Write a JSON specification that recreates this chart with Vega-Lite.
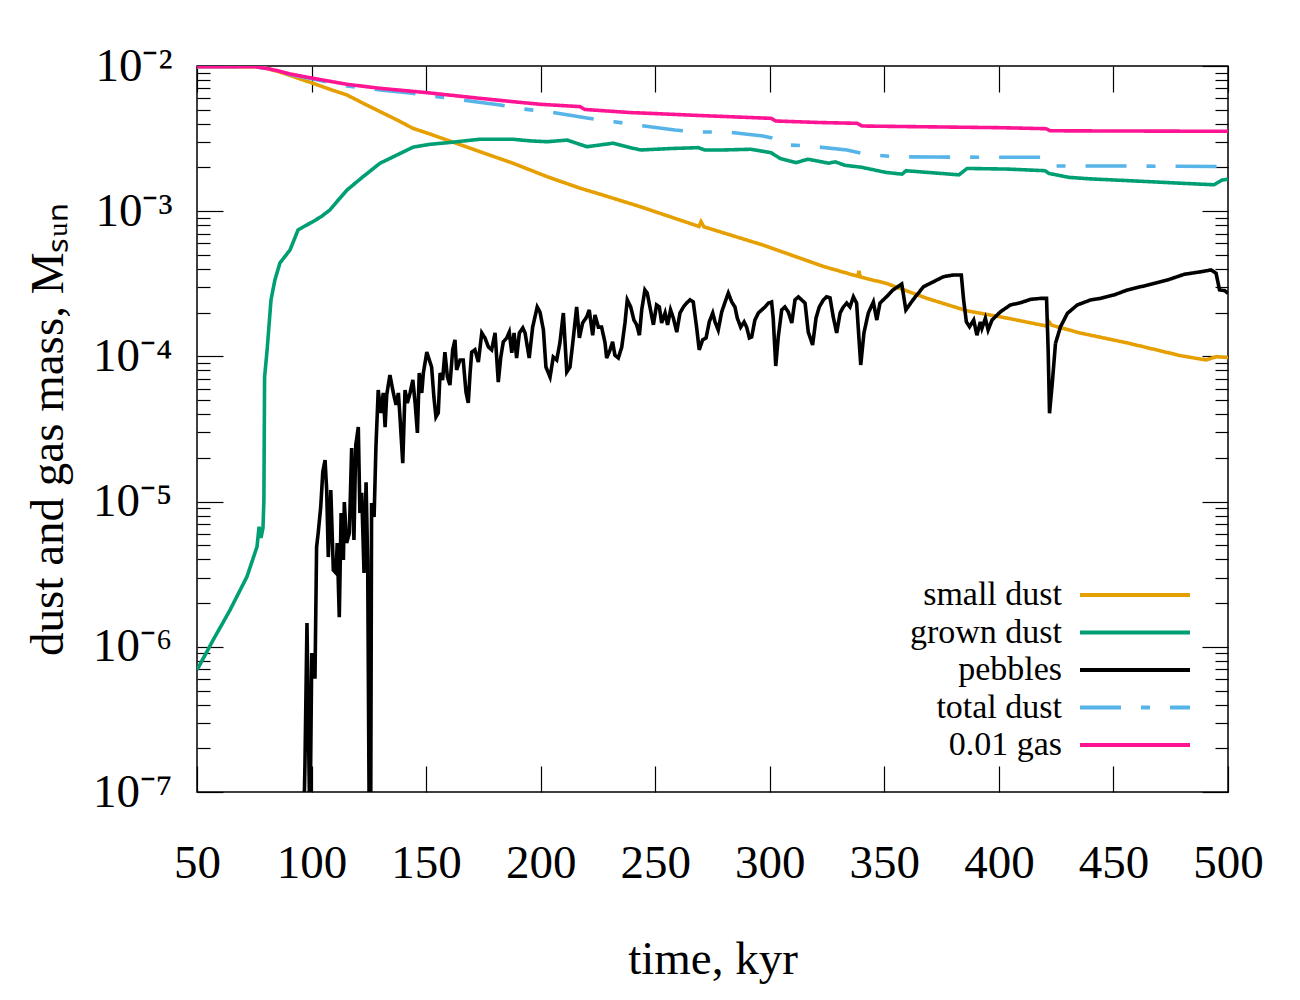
{
  "$schema": "https://vega.github.io/schema/vega-lite/v6.json",
  "width": 1031,
  "height": 726,
  "autosize": {"type": "none"},
  "padding": {"left": 197, "top": 66, "right": 72, "bottom": 208},
  "background": "white",
  "config": {
    "view": {"stroke": "black", "strokeWidth": 1.5},
    "axis": {"domain": false, "grid": false, "tickColor": "black", "tickWidth": 1.2, "labelColor": "black", "titleColor": "black", "labelFont": "Liberation Serif", "titleFont": "Liberation Serif", "titleFontWeight": "normal", "zindex": 1}
  },
  "datasets": {
    "curves": [
      {"series": "small dust", "t": 50, "m": 0.0099},
      {"series": "small dust", "t": 75.3, "m": 0.0099},
      {"series": "small dust", "t": 77.5, "m": 0.00989},
      {"series": "small dust", "t": 86.2, "m": 0.00909},
      {"series": "small dust", "t": 100.6, "m": 0.0076},
      {"series": "small dust", "t": 108.0, "m": 0.00691},
      {"series": "small dust", "t": 115.5, "m": 0.00631},
      {"series": "small dust", "t": 122.5, "m": 0.00554},
      {"series": "small dust", "t": 129.9, "m": 0.00485},
      {"series": "small dust", "t": 137.3, "m": 0.00425},
      {"series": "small dust", "t": 144.3, "m": 0.00372},
      {"series": "small dust", "t": 151.7, "m": 0.0034},
      {"series": "small dust", "t": 159.1, "m": 0.00309},
      {"series": "small dust", "t": 173.5, "m": 0.00257},
      {"series": "small dust", "t": 187.9, "m": 0.00214},
      {"series": "small dust", "t": 202.8, "m": 0.00173},
      {"series": "small dust", "t": 217.2, "m": 0.00144},
      {"series": "small dust", "t": 225.9, "m": 0.00131},
      {"series": "small dust", "t": 243.8, "m": 0.00107},
      {"series": "small dust", "t": 269.1, "m": 0.000785},
      {"series": "small dust", "t": 270.0, "m": 0.000847},
      {"series": "small dust", "t": 271.3, "m": 0.00078},
      {"series": "small dust", "t": 297.0, "m": 0.000585},
      {"series": "small dust", "t": 323.7, "m": 0.000415},
      {"series": "small dust", "t": 338.5, "m": 0.000356},
      {"series": "small dust", "t": 338.9, "m": 0.000388},
      {"series": "small dust", "t": 339.5, "m": 0.000352},
      {"series": "small dust", "t": 350.7, "m": 0.000319},
      {"series": "small dust", "t": 368.6, "m": 0.000251},
      {"series": "small dust", "t": 386.1, "m": 0.000206},
      {"series": "small dust", "t": 404.0, "m": 0.000183},
      {"series": "small dust", "t": 420.6, "m": 0.000162},
      {"series": "small dust", "t": 421.9, "m": 0.000173},
      {"series": "small dust", "t": 423.0, "m": 0.000164},
      {"series": "small dust", "t": 435.4, "m": 0.000145},
      {"series": "small dust", "t": 455.9, "m": 0.000124},
      {"series": "small dust", "t": 479.5, "m": 0.000101},
      {"series": "small dust", "t": 490.4, "m": 0.0000945},
      {"series": "small dust", "t": 494.8, "m": 0.0000995},
      {"series": "small dust", "t": 500, "m": 0.0000983},

      {"series": "grown dust", "t": 50, "m": 6.92e-7},
      {"series": "grown dust", "t": 57.0, "m": 1.11e-6},
      {"series": "grown dust", "t": 64.4, "m": 1.79e-6},
      {"series": "grown dust", "t": 71.8, "m": 3.04e-6},
      {"series": "grown dust", "t": 76.2, "m": 4.89e-6},
      {"series": "grown dust", "t": 77.1, "m": 6.72e-6},
      {"series": "grown dust", "t": 77.9, "m": 5.62e-6},
      {"series": "grown dust", "t": 78.8, "m": 6.58e-6},
      {"series": "grown dust", "t": 79.2, "m": 1.03e-5},
      {"series": "grown dust", "t": 79.5, "m": 7.2e-5},
      {"series": "grown dust", "t": 80.6, "m": 1.107e-4},
      {"series": "grown dust", "t": 82.3, "m": 2.45e-4},
      {"series": "grown dust", "t": 84.0, "m": 3.36e-4},
      {"series": "grown dust", "t": 86.2, "m": 4.40e-4},
      {"series": "grown dust", "t": 90.6, "m": 5.41e-4},
      {"series": "grown dust", "t": 94.1, "m": 7.42e-4},
      {"series": "grown dust", "t": 97.1, "m": 7.91e-4},
      {"series": "grown dust", "t": 100.6, "m": 8.47e-4},
      {"series": "grown dust", "t": 104.3, "m": 9.2e-4},
      {"series": "grown dust", "t": 108.0, "m": 1.02e-3},
      {"series": "grown dust", "t": 111.8, "m": 1.2e-3},
      {"series": "grown dust", "t": 115.5, "m": 1.40e-3},
      {"series": "grown dust", "t": 122.5, "m": 1.73e-3},
      {"series": "grown dust", "t": 129.9, "m": 2.14e-3},
      {"series": "grown dust", "t": 137.3, "m": 2.44e-3},
      {"series": "grown dust", "t": 144.3, "m": 2.76e-3},
      {"series": "grown dust", "t": 151.7, "m": 2.89e-3},
      {"series": "grown dust", "t": 159.1, "m": 2.96e-3},
      {"series": "grown dust", "t": 173.5, "m": 3.13e-3},
      {"series": "grown dust", "t": 187.9, "m": 3.13e-3},
      {"series": "grown dust", "t": 195.3, "m": 3.05e-3},
      {"series": "grown dust", "t": 202.8, "m": 3.01e-3},
      {"series": "grown dust", "t": 211.5, "m": 3.09e-3},
      {"series": "grown dust", "t": 220.2, "m": 2.78e-3},
      {"series": "grown dust", "t": 231.6, "m": 2.94e-3},
      {"series": "grown dust", "t": 239.0, "m": 2.74e-3},
      {"series": "grown dust", "t": 243.8, "m": 2.64e-3},
      {"series": "grown dust", "t": 256.4, "m": 2.70e-3},
      {"series": "grown dust", "t": 268.7, "m": 2.74e-3},
      {"series": "grown dust", "t": 271.7, "m": 2.64e-3},
      {"series": "grown dust", "t": 279.2, "m": 2.64e-3},
      {"series": "grown dust", "t": 291.8, "m": 2.67e-3},
      {"series": "grown dust", "t": 300.5, "m": 2.53e-3},
      {"series": "grown dust", "t": 304.5, "m": 2.31e-3},
      {"series": "grown dust", "t": 311.4, "m": 2.16e-3},
      {"series": "grown dust", "t": 316.7, "m": 2.28e-3},
      {"series": "grown dust", "t": 325.8, "m": 2.14e-3},
      {"series": "grown dust", "t": 328.5, "m": 2.19e-3},
      {"series": "grown dust", "t": 332.8, "m": 2.07e-3},
      {"series": "grown dust", "t": 339.8, "m": 2.01e-3},
      {"series": "grown dust", "t": 350.7, "m": 1.85e-3},
      {"series": "grown dust", "t": 357.7, "m": 1.80e-3},
      {"series": "grown dust", "t": 359.5, "m": 1.90e-3},
      {"series": "grown dust", "t": 382.6, "m": 1.78e-3},
      {"series": "grown dust", "t": 386.1, "m": 1.97e-3},
      {"series": "grown dust", "t": 404.0, "m": 1.95e-3},
      {"series": "grown dust", "t": 420.1, "m": 1.90e-3},
      {"series": "grown dust", "t": 421.9, "m": 1.82e-3},
      {"series": "grown dust", "t": 430.6, "m": 1.71e-3},
      {"series": "grown dust", "t": 439.8, "m": 1.67e-3},
      {"series": "grown dust", "t": 457.7, "m": 1.62e-3},
      {"series": "grown dust", "t": 475.1, "m": 1.57e-3},
      {"series": "grown dust", "t": 493.9, "m": 1.52e-3},
      {"series": "grown dust", "t": 497.4, "m": 1.64e-3},
      {"series": "grown dust", "t": 500, "m": 1.66e-3},

      {"series": "pebbles", "t": 96.5, "m": 5e-8},
      {"series": "pebbles", "t": 97.1, "m": 1.49e-7},
      {"series": "pebbles", "t": 98.0, "m": 1.46e-6},
      {"series": "pebbles", "t": 99.3, "m": 5e-8},
      {"series": "pebbles", "t": 100.1, "m": 9.06e-7},
      {"series": "pebbles", "t": 100.8, "m": 6.19e-7},
      {"series": "pebbles", "t": 101.5, "m": 6.19e-7},
      {"series": "pebbles", "t": 102.2, "m": 4.87e-6},
      {"series": "pebbles", "t": 102.9, "m": 6.08e-6},
      {"series": "pebbles", "t": 104.0, "m": 9.18e-6},
      {"series": "pebbles", "t": 104.9, "m": 1.60e-5},
      {"series": "pebbles", "t": 105.9, "m": 1.93e-5},
      {"series": "pebbles", "t": 106.6, "m": 1.20e-5},
      {"series": "pebbles", "t": 107.3, "m": 4.15e-6},
      {"series": "pebbles", "t": 108.4, "m": 1.20e-5},
      {"series": "pebbles", "t": 109.5, "m": 3.38e-6},
      {"series": "pebbles", "t": 110.7, "m": 3.22e-6},
      {"series": "pebbles", "t": 111.2, "m": 5.19e-6},
      {"series": "pebbles", "t": 112.1, "m": 1.60e-6},
      {"series": "pebbles", "t": 112.9, "m": 8.35e-6},
      {"series": "pebbles", "t": 113.9, "m": 3.96e-6},
      {"series": "pebbles", "t": 114.3, "m": 9.94e-6},
      {"series": "pebbles", "t": 115.3, "m": 5.19e-6},
      {"series": "pebbles", "t": 116.5, "m": 6.08e-6},
      {"series": "pebbles", "t": 117.5, "m": 2.34e-5},
      {"series": "pebbles", "t": 118.5, "m": 5.44e-6},
      {"series": "pebbles", "t": 119.3, "m": 2.45e-5},
      {"series": "pebbles", "t": 120.4, "m": 3.26e-5},
      {"series": "pebbles", "t": 121.1, "m": 8.35e-6},
      {"series": "pebbles", "t": 121.9, "m": 1.15e-5},
      {"series": "pebbles", "t": 122.9, "m": 3.22e-6},
      {"series": "pebbles", "t": 123.8, "m": 1.36e-5},
      {"series": "pebbles", "t": 124.5, "m": 3.78e-6},
      {"series": "pebbles", "t": 125.2, "m": 5e-8},
      {"series": "pebbles", "t": 125.8, "m": 5e-8},
      {"series": "pebbles", "t": 126.2, "m": 9.78e-6},
      {"series": "pebbles", "t": 127.3, "m": 7.83e-6},
      {"series": "pebbles", "t": 128.1, "m": 2.38e-5},
      {"series": "pebbles", "t": 129.1, "m": 5.87e-5},
      {"series": "pebbles", "t": 130.2, "m": 4.08e-5},
      {"series": "pebbles", "t": 131.3, "m": 5.60e-5},
      {"series": "pebbles", "t": 132.1, "m": 3.26e-5},
      {"series": "pebbles", "t": 132.8, "m": 5.42e-5},
      {"series": "pebbles", "t": 134.2, "m": 7.45e-5},
      {"series": "pebbles", "t": 135.7, "m": 5.60e-5},
      {"series": "pebbles", "t": 136.9, "m": 4.63e-5},
      {"series": "pebbles", "t": 137.9, "m": 5.60e-5},
      {"series": "pebbles", "t": 138.6, "m": 3.83e-5},
      {"series": "pebbles", "t": 139.8, "m": 1.84e-5},
      {"series": "pebbles", "t": 140.8, "m": 5.87e-5},
      {"series": "pebbles", "t": 141.8, "m": 4.78e-5},
      {"series": "pebbles", "t": 143.0, "m": 5.60e-5},
      {"series": "pebbles", "t": 144.2, "m": 6.88e-5},
      {"series": "pebbles", "t": 145.2, "m": 4.78e-5},
      {"series": "pebbles", "t": 146.2, "m": 2.97e-5},
      {"series": "pebbles", "t": 147.0, "m": 7.69e-5},
      {"series": "pebbles", "t": 148.1, "m": 5.60e-5},
      {"series": "pebbles", "t": 148.8, "m": 7.69e-5},
      {"series": "pebbles", "t": 150.3, "m": 1.07e-4},
      {"series": "pebbles", "t": 151.4, "m": 9.45e-5},
      {"series": "pebbles", "t": 152.4, "m": 8.45e-5},
      {"series": "pebbles", "t": 153.4, "m": 5.25e-5},
      {"series": "pebbles", "t": 154.3, "m": 3.83e-5},
      {"series": "pebbles", "t": 155.3, "m": 4.08e-5},
      {"series": "pebbles", "t": 156.1, "m": 7.69e-5},
      {"series": "pebbles", "t": 157.2, "m": 6.88e-5},
      {"series": "pebbles", "t": 158.2, "m": 1.07e-4},
      {"series": "pebbles", "t": 159.3, "m": 7.21e-5},
      {"series": "pebbles", "t": 160.4, "m": 6.35e-5},
      {"series": "pebbles", "t": 161.6, "m": 1.11e-4},
      {"series": "pebbles", "t": 162.6, "m": 1.30e-4},
      {"series": "pebbles", "t": 163.3, "m": 8.06e-5},
      {"series": "pebbles", "t": 164.8, "m": 9.45e-5},
      {"series": "pebbles", "t": 166.2, "m": 9.45e-5},
      {"series": "pebbles", "t": 167.4, "m": 5.69e-5},
      {"series": "pebbles", "t": 168.4, "m": 4.78e-5},
      {"series": "pebbles", "t": 169.2, "m": 7.69e-5},
      {"series": "pebbles", "t": 169.9, "m": 1.07e-4},
      {"series": "pebbles", "t": 171.3, "m": 1.11e-4},
      {"series": "pebbles", "t": 172.8, "m": 9.15e-5},
      {"series": "pebbles", "t": 174.3, "m": 1.45e-4},
      {"series": "pebbles", "t": 175.7, "m": 1.34e-4},
      {"series": "pebbles", "t": 177.2, "m": 1.16e-4},
      {"series": "pebbles", "t": 178.6, "m": 1.11e-4},
      {"series": "pebbles", "t": 180.1, "m": 1.45e-4},
      {"series": "pebbles", "t": 181.5, "m": 6.66e-5},
      {"series": "pebbles", "t": 182.6, "m": 9.91e-5},
      {"series": "pebbles", "t": 183.7, "m": 1.26e-4},
      {"series": "pebbles", "t": 185.2, "m": 1.34e-4},
      {"series": "pebbles", "t": 186.3, "m": 1.47e-4},
      {"series": "pebbles", "t": 187.4, "m": 1.06e-4},
      {"series": "pebbles", "t": 188.4, "m": 1.45e-4},
      {"series": "pebbles", "t": 189.5, "m": 9.75e-5},
      {"series": "pebbles", "t": 190.7, "m": 1.45e-4},
      {"series": "pebbles", "t": 192.2, "m": 1.57e-4},
      {"series": "pebbles", "t": 193.2, "m": 1.45e-4},
      {"series": "pebbles", "t": 195.0, "m": 9.75e-5},
      {"series": "pebbles", "t": 196.5, "m": 1.59e-4},
      {"series": "pebbles", "t": 198.5, "m": 2.19e-4},
      {"series": "pebbles", "t": 199.7, "m": 2.02e-4},
      {"series": "pebbles", "t": 201.2, "m": 1.52e-4},
      {"series": "pebbles", "t": 202.3, "m": 8.45e-5},
      {"series": "pebbles", "t": 204.1, "m": 7.21e-5},
      {"series": "pebbles", "t": 205.5, "m": 9.91e-5},
      {"series": "pebbles", "t": 207.0, "m": 9.45e-5},
      {"series": "pebbles", "t": 208.4, "m": 1.24e-4},
      {"series": "pebbles", "t": 209.9, "m": 1.99e-4},
      {"series": "pebbles", "t": 211.4, "m": 7.81e-5},
      {"series": "pebbles", "t": 212.8, "m": 8.45e-5},
      {"series": "pebbles", "t": 214.3, "m": 1.36e-4},
      {"series": "pebbles", "t": 215.7, "m": 2.19e-4},
      {"series": "pebbles", "t": 216.9, "m": 1.34e-4},
      {"series": "pebbles", "t": 218.3, "m": 1.70e-4},
      {"series": "pebbles", "t": 220.1, "m": 1.87e-4},
      {"series": "pebbles", "t": 221.2, "m": 2.09e-4},
      {"series": "pebbles", "t": 222.7, "m": 1.40e-4},
      {"series": "pebbles", "t": 223.7, "m": 1.93e-4},
      {"series": "pebbles", "t": 225.2, "m": 1.59e-4},
      {"series": "pebbles", "t": 226.6, "m": 1.59e-4},
      {"series": "pebbles", "t": 228.1, "m": 1.24e-4},
      {"series": "pebbles", "t": 228.8, "m": 9.75e-5},
      {"series": "pebbles", "t": 230.3, "m": 1.11e-4},
      {"series": "pebbles", "t": 231.4, "m": 1.26e-4},
      {"series": "pebbles", "t": 232.4, "m": 1.02e-4},
      {"series": "pebbles", "t": 233.9, "m": 9.75e-5},
      {"series": "pebbles", "t": 235.4, "m": 1.16e-4},
      {"series": "pebbles", "t": 236.8, "m": 1.70e-4},
      {"series": "pebbles", "t": 237.8, "m": 2.45e-4},
      {"series": "pebbles", "t": 239.3, "m": 2.19e-4},
      {"series": "pebbles", "t": 240.7, "m": 1.78e-4},
      {"series": "pebbles", "t": 241.9, "m": 1.65e-4},
      {"series": "pebbles", "t": 243.1, "m": 1.40e-4},
      {"series": "pebbles", "t": 244.1, "m": 2.09e-4},
      {"series": "pebbles", "t": 245.5, "m": 2.87e-4},
      {"series": "pebbles", "t": 246.5, "m": 2.73e-4},
      {"series": "pebbles", "t": 247.7, "m": 2.19e-4},
      {"series": "pebbles", "t": 249.2, "m": 1.65e-4},
      {"series": "pebbles", "t": 250.6, "m": 2.26e-4},
      {"series": "pebbles", "t": 251.8, "m": 2.19e-4},
      {"series": "pebbles", "t": 252.8, "m": 1.70e-4},
      {"series": "pebbles", "t": 254.3, "m": 1.99e-4},
      {"series": "pebbles", "t": 255.4, "m": 1.65e-4},
      {"series": "pebbles", "t": 256.7, "m": 2.09e-4},
      {"series": "pebbles", "t": 257.9, "m": 1.84e-4},
      {"series": "pebbles", "t": 259.4, "m": 1.47e-4},
      {"series": "pebbles", "t": 260.8, "m": 1.99e-4},
      {"series": "pebbles", "t": 262.3, "m": 2.19e-4},
      {"series": "pebbles", "t": 263.7, "m": 2.33e-4},
      {"series": "pebbles", "t": 265.2, "m": 2.45e-4},
      {"series": "pebbles", "t": 266.6, "m": 2.37e-4},
      {"series": "pebbles", "t": 268.1, "m": 1.57e-4},
      {"series": "pebbles", "t": 269.2, "m": 1.11e-4},
      {"series": "pebbles", "t": 270.7, "m": 1.30e-4},
      {"series": "pebbles", "t": 272.2, "m": 1.34e-4},
      {"series": "pebbles", "t": 273.6, "m": 1.73e-4},
      {"series": "pebbles", "t": 275.1, "m": 1.99e-4},
      {"series": "pebbles", "t": 276.1, "m": 1.73e-4},
      {"series": "pebbles", "t": 277.5, "m": 1.52e-4},
      {"series": "pebbles", "t": 279.0, "m": 2.02e-4},
      {"series": "pebbles", "t": 280.5, "m": 2.37e-4},
      {"series": "pebbles", "t": 281.9, "m": 2.73e-4},
      {"series": "pebbles", "t": 283.4, "m": 2.37e-4},
      {"series": "pebbles", "t": 284.8, "m": 2.19e-4},
      {"series": "pebbles", "t": 285.8, "m": 1.84e-4},
      {"series": "pebbles", "t": 287.3, "m": 1.59e-4},
      {"series": "pebbles", "t": 288.8, "m": 1.73e-4},
      {"series": "pebbles", "t": 289.9, "m": 1.59e-4},
      {"series": "pebbles", "t": 291.1, "m": 1.34e-4},
      {"series": "pebbles", "t": 292.1, "m": 1.36e-4},
      {"series": "pebbles", "t": 293.5, "m": 1.78e-4},
      {"series": "pebbles", "t": 295.0, "m": 1.99e-4},
      {"series": "pebbles", "t": 296.5, "m": 2.09e-4},
      {"series": "pebbles", "t": 297.9, "m": 2.19e-4},
      {"series": "pebbles", "t": 299.4, "m": 2.33e-4},
      {"series": "pebbles", "t": 300.8, "m": 2.37e-4},
      {"series": "pebbles", "t": 301.5, "m": 1.84e-4},
      {"series": "pebbles", "t": 302.6, "m": 8.59e-5},
      {"series": "pebbles", "t": 303.7, "m": 1.36e-4},
      {"series": "pebbles", "t": 305.2, "m": 2.09e-4},
      {"series": "pebbles", "t": 306.6, "m": 2.19e-4},
      {"series": "pebbles", "t": 308.1, "m": 2.02e-4},
      {"series": "pebbles", "t": 309.6, "m": 1.70e-4},
      {"series": "pebbles", "t": 311.0, "m": 2.45e-4},
      {"series": "pebbles", "t": 312.5, "m": 2.57e-4},
      {"series": "pebbles", "t": 313.9, "m": 2.45e-4},
      {"series": "pebbles", "t": 315.4, "m": 2.33e-4},
      {"series": "pebbles", "t": 316.8, "m": 1.47e-4},
      {"series": "pebbles", "t": 318.7, "m": 1.20e-4},
      {"series": "pebbles", "t": 320.2, "m": 1.84e-4},
      {"series": "pebbles", "t": 321.6, "m": 2.19e-4},
      {"series": "pebbles", "t": 323.4, "m": 2.45e-4},
      {"series": "pebbles", "t": 324.8, "m": 2.57e-4},
      {"series": "pebbles", "t": 326.3, "m": 2.53e-4},
      {"series": "pebbles", "t": 327.7, "m": 1.87e-4},
      {"series": "pebbles", "t": 329.2, "m": 1.45e-4},
      {"series": "pebbles", "t": 330.7, "m": 1.99e-4},
      {"series": "pebbles", "t": 332.1, "m": 2.19e-4},
      {"series": "pebbles", "t": 333.6, "m": 2.33e-4},
      {"series": "pebbles", "t": 335.0, "m": 2.19e-4},
      {"series": "pebbles", "t": 336.5, "m": 2.57e-4},
      {"series": "pebbles", "t": 337.9, "m": 2.33e-4},
      {"series": "pebbles", "t": 339.7, "m": 8.73e-5},
      {"series": "pebbles", "t": 341.1, "m": 1.45e-4},
      {"series": "pebbles", "t": 343.0, "m": 1.99e-4},
      {"series": "pebbles", "t": 345.2, "m": 2.37e-4},
      {"series": "pebbles", "t": 346.7, "m": 1.78e-4},
      {"series": "pebbles", "t": 348.1, "m": 2.33e-4},
      {"series": "pebbles", "t": 351.0, "m": 2.58e-4},
      {"series": "pebbles", "t": 353.8, "m": 2.87e-4},
      {"series": "pebbles", "t": 357.6, "m": 3.15e-4},
      {"series": "pebbles", "t": 359.4, "m": 2.09e-4},
      {"series": "pebbles", "t": 362.5, "m": 2.45e-4},
      {"series": "pebbles", "t": 367.1, "m": 3.02e-4},
      {"series": "pebbles", "t": 371.5, "m": 3.27e-4},
      {"series": "pebbles", "t": 375.8, "m": 3.54e-4},
      {"series": "pebbles", "t": 380.2, "m": 3.64e-4},
      {"series": "pebbles", "t": 383.6, "m": 3.64e-4},
      {"series": "pebbles", "t": 384.6, "m": 2.45e-4},
      {"series": "pebbles", "t": 385.8, "m": 1.73e-4},
      {"series": "pebbles", "t": 387.2, "m": 1.60e-4},
      {"series": "pebbles", "t": 389.0, "m": 1.78e-4},
      {"series": "pebbles", "t": 390.4, "m": 1.40e-4},
      {"series": "pebbles", "t": 391.9, "m": 1.73e-4},
      {"series": "pebbles", "t": 392.6, "m": 1.56e-4},
      {"series": "pebbles", "t": 394.1, "m": 1.83e-4},
      {"series": "pebbles", "t": 395.3, "m": 1.52e-4},
      {"series": "pebbles", "t": 397.0, "m": 1.78e-4},
      {"series": "pebbles", "t": 400.7, "m": 2.03e-4},
      {"series": "pebbles", "t": 405.0, "m": 2.26e-4},
      {"series": "pebbles", "t": 409.4, "m": 2.34e-4},
      {"series": "pebbles", "t": 413.8, "m": 2.47e-4},
      {"series": "pebbles", "t": 418.2, "m": 2.51e-4},
      {"series": "pebbles", "t": 420.8, "m": 2.51e-4},
      {"series": "pebbles", "t": 421.5, "m": 1.11e-4},
      {"series": "pebbles", "t": 422.1, "m": 4.06e-5},
      {"series": "pebbles", "t": 423.3, "m": 6.53e-5},
      {"series": "pebbles", "t": 424.7, "m": 1.23e-4},
      {"series": "pebbles", "t": 426.9, "m": 1.60e-4},
      {"series": "pebbles", "t": 429.9, "m": 1.98e-4},
      {"series": "pebbles", "t": 434.2, "m": 2.26e-4},
      {"series": "pebbles", "t": 440.1, "m": 2.45e-4},
      {"series": "pebbles", "t": 444.4, "m": 2.51e-4},
      {"series": "pebbles", "t": 450.3, "m": 2.65e-4},
      {"series": "pebbles", "t": 456.1, "m": 2.87e-4},
      {"series": "pebbles", "t": 464.9, "m": 3.10e-4},
      {"series": "pebbles", "t": 473.6, "m": 3.36e-4},
      {"series": "pebbles", "t": 481.0, "m": 3.68e-4},
      {"series": "pebbles", "t": 488.3, "m": 3.83e-4},
      {"series": "pebbles", "t": 492.6, "m": 3.94e-4},
      {"series": "pebbles", "t": 494.8, "m": 3.74e-4},
      {"series": "pebbles", "t": 496.3, "m": 2.87e-4},
      {"series": "pebbles", "t": 498.5, "m": 2.84e-4},
      {"series": "pebbles", "t": 500, "m": 2.72e-4},

      {"series": "total dust", "t": 50, "m": 0.0099},
      {"series": "total dust", "t": 75.3, "m": 0.0099},
      {"series": "total dust", "t": 81.9, "m": 0.00954},
      {"series": "total dust", "t": 90.6, "m": 0.00874},
      {"series": "total dust", "t": 100.6, "m": 0.00814},
      {"series": "total dust", "t": 115.5, "m": 0.00728},
      {"series": "total dust", "t": 129.9, "m": 0.00684},
      {"series": "total dust", "t": 143.0, "m": 0.00652},
      {"series": "total dust", "t": 154.8, "m": 0.00615},
      {"series": "total dust", "t": 166.1, "m": 0.00583},
      {"series": "total dust", "t": 182.3, "m": 0.00539},
      {"series": "total dust", "t": 192.3, "m": 0.00506},
      {"series": "total dust", "t": 204.1, "m": 0.00482},
      {"series": "total dust", "t": 220.2, "m": 0.00438},
      {"series": "total dust", "t": 225.9, "m": 0.00425},
      {"series": "total dust", "t": 232.9, "m": 0.00412},
      {"series": "total dust", "t": 242.0, "m": 0.00392},
      {"series": "total dust", "t": 258.6, "m": 0.00362},
      {"series": "total dust", "t": 269.5, "m": 0.00351},
      {"series": "total dust", "t": 281.3, "m": 0.00351},
      {"series": "total dust", "t": 297.0, "m": 0.0033},
      {"series": "total dust", "t": 301.0, "m": 0.00319},
      {"series": "total dust", "t": 304.5, "m": 0.00305},
      {"series": "total dust", "t": 308.0, "m": 0.00286},
      {"series": "total dust", "t": 317.6, "m": 0.00281},
      {"series": "total dust", "t": 333.7, "m": 0.00264},
      {"series": "total dust", "t": 341.6, "m": 0.00248},
      {"series": "total dust", "t": 354.2, "m": 0.00237},
      {"series": "total dust", "t": 371.2, "m": 0.00236},
      {"series": "total dust", "t": 410.1, "m": 0.00235},
      {"series": "total dust", "t": 419.3, "m": 0.00235},
      {"series": "total dust", "t": 421.0, "m": 0.00218},
      {"series": "total dust", "t": 423.2, "m": 0.00205},
      {"series": "total dust", "t": 446.8, "m": 0.00205},
      {"series": "total dust", "t": 500, "m": 0.00203},

      {"series": "0.01 gas", "t": 50, "m": 0.0099},
      {"series": "0.01 gas", "t": 75.3, "m": 0.0099},
      {"series": "0.01 gas", "t": 81.9, "m": 0.00954},
      {"series": "0.01 gas", "t": 90.6, "m": 0.00881},
      {"series": "0.01 gas", "t": 100.6, "m": 0.00823},
      {"series": "0.01 gas", "t": 115.5, "m": 0.00748},
      {"series": "0.01 gas", "t": 129.9, "m": 0.00702},
      {"series": "0.01 gas", "t": 150.4, "m": 0.00655},
      {"series": "0.01 gas", "t": 173.5, "m": 0.00599},
      {"series": "0.01 gas", "t": 187.9, "m": 0.00568},
      {"series": "0.01 gas", "t": 199.7, "m": 0.00545},
      {"series": "0.01 gas", "t": 217.2, "m": 0.00525},
      {"series": "0.01 gas", "t": 219.3, "m": 0.00502},
      {"series": "0.01 gas", "t": 239.0, "m": 0.00478},
      {"series": "0.01 gas", "t": 249.0, "m": 0.00471},
      {"series": "0.01 gas", "t": 269.5, "m": 0.00456},
      {"series": "0.01 gas", "t": 300.5, "m": 0.00436},
      {"series": "0.01 gas", "t": 302.7, "m": 0.00418},
      {"series": "0.01 gas", "t": 321.9, "m": 0.00408},
      {"series": "0.01 gas", "t": 338.1, "m": 0.00403},
      {"series": "0.01 gas", "t": 340.3, "m": 0.00386},
      {"series": "0.01 gas", "t": 400.5, "m": 0.00376},
      {"series": "0.01 gas", "t": 420.6, "m": 0.0037},
      {"series": "0.01 gas", "t": 422.3, "m": 0.00358},
      {"series": "0.01 gas", "t": 444.1, "m": 0.00357},
      {"series": "0.01 gas", "t": 500, "m": 0.00355}
    ]
  },
  "data": {"name": "curves"},
  "layer": [
    {
      "mark": {"type": "line", "strokeWidth": 3.6, "clip": true},
      "encoding": {
        "x": {
          "field": "t", "type": "quantitative",
          "scale": {"domain": [50, 500], "nice": false, "zero": false},
          "axis": {
            "orient": "bottom",
            "values": [50, 100, 150, 200, 250, 300, 350, 400, 450, 500],
            "tickSize": -26,
            "labelFontSize": 47,
            "labelPadding": 111,
            "labelBaseline": "alphabetic",
            "labelFlush": false,
            "labelOverlap": false,
            "title": "time, kyr",
            "titleFontSize": 47,
            "titleY": 181,
            "titleBaseline": "alphabetic"
          }
        },
        "y": {
          "field": "m", "type": "quantitative",
          "scale": {"type": "log", "domain": [1e-7, 0.01], "nice": false},
          "axis": {
            "orient": "left",
            "values": [1e-7, 2e-7, 3e-7, 4e-7, 5e-7, 6e-7, 7e-7, 8e-7, 9e-7, 1e-6, 2e-6, 3e-6, 4e-6, 5e-6, 6e-6, 7e-6, 8e-6, 9e-6, 1e-5, 2e-5, 3e-5, 4e-5, 5e-5, 6e-5, 7e-5, 8e-5, 9e-5, 1e-4, 2e-4, 3e-4, 4e-4, 5e-4, 6e-4, 7e-4, 8e-4, 9e-4, 1e-3, 2e-3, 3e-3, 4e-3, 5e-3, 6e-3, 7e-3, 8e-3, 9e-3, 1e-2],
            "tickSize": {"condition": {"test": "abs(log(datum.value)/LN10 - round(log(datum.value)/LN10)) < 0.01", "value": -26}, "value": -13},
            "labelExpr": "abs(log(datum.value)/LN10 - round(log(datum.value)/LN10)) < 0.01 ? '10⁻' + ['⁰','¹','²','³','⁴','⁵','⁶','⁷'][-round(log(datum.value)/LN10)] : ''",
            "labelFontSize": 47,
            "labelPadding": 51,
            "labelFlush": false,
            "labelOverlap": false,
            "title": "dust and gas mass, Mₛᵤₙ",
            "titleFontSize": 47,
            "titleAngle": 270,
            "titleX": -135,
            "titleY": 363,
            "titleAlign": "center",
            "titleBaseline": "alphabetic"
          }
        },
        "color": {
          "field": "series", "type": "nominal",
          "scale": {"domain": ["small dust", "grown dust", "pebbles", "total dust", "0.01 gas"], "range": ["#E69F00", "#009E73", "#000000", "#56B4E9", "#FF1493"]},
          "legend": {
            "title": null, "orient": "none", "legendX": 921, "legendY": 512, "padding": 0,
            "symbolType": "M-10,0H10", "symbolSize": 121, "symbolStrokeWidth": 3.8,
            "labelFont": "Liberation Serif", "labelFontSize": 34, "labelColor": "black",
            "labelAlign": "right", "labelOffset": -90, "labelLimit": 500, "rowPadding": 3.5
          }
        },
        "strokeDash": {
          "field": "series", "type": "nominal",
          "scale": {"domain": ["small dust", "grown dust", "pebbles", "total dust", "0.01 gas"], "range": [[1, 0], [1, 0], [1, 0], [41, 20, 9, 20], [1, 0]]},
          "legend": {
            "title": null, "orient": "none", "legendX": 921, "legendY": 512, "padding": 0,
            "symbolType": "M-10,0H10", "symbolSize": 121, "symbolStrokeWidth": 3.8,
            "labelFont": "Liberation Serif", "labelFontSize": 34, "labelColor": "black",
            "labelAlign": "right", "labelOffset": -90, "labelLimit": 500, "rowPadding": 3.5
          }
        }
      }
    },
    {
      "mark": {"type": "line", "strokeOpacity": 0},
      "encoding": {
        "x": {
          "field": "t", "type": "quantitative",
          "axis": {
            "orient": "top",
            "values": [50, 100, 150, 200, 250, 300, 350, 400, 450, 500],
            "tickSize": -26,
            "labels": false,
            "title": null
          }
        },
        "y": {
          "field": "m", "type": "quantitative",
          "axis": {
            "orient": "right",
            "values": [1e-7, 2e-7, 3e-7, 4e-7, 5e-7, 6e-7, 7e-7, 8e-7, 9e-7, 1e-6, 2e-6, 3e-6, 4e-6, 5e-6, 6e-6, 7e-6, 8e-6, 9e-6, 1e-5, 2e-5, 3e-5, 4e-5, 5e-5, 6e-5, 7e-5, 8e-5, 9e-5, 1e-4, 2e-4, 3e-4, 4e-4, 5e-4, 6e-4, 7e-4, 8e-4, 9e-4, 1e-3, 2e-3, 3e-3, 4e-3, 5e-3, 6e-3, 7e-3, 8e-3, 9e-3, 1e-2],
            "tickSize": {"condition": {"test": "abs(log(datum.value)/LN10 - round(log(datum.value)/LN10)) < 0.01", "value": -26}, "value": -13},
            "labels": false,
            "title": null
          }
        }
      }
    }
  ],
  "resolve": {"axis": {"x": "independent", "y": "independent"}}
}
